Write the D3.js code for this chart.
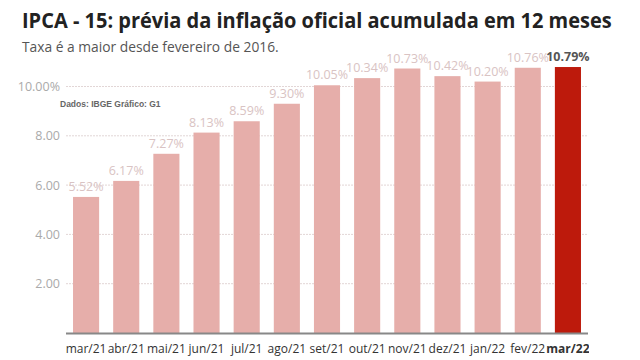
<!DOCTYPE html>
<html><head><meta charset="utf-8">
<script src="https://cdn.jsdelivr.net/npm/d3@7"></script>
<style>body{margin:0;background:#fff}svg{display:block}</style>
</head><body>
<svg id="c" width="640" height="360"></svg>
<script>
const categories = ["mar/21","abr/21","mai/21","jun/21","jul/21","ago/21","set/21","out/21","nov/21","dez/21","jan/22","fev/22","mar/22"];
const values = [5.52,6.17,7.27,8.13,8.59,9.30,10.05,10.34,10.73,10.42,10.20,10.76,10.79];
const yTicks = [2,4,6,8,10];
const yTickLabels = ["2.00","4.00","6.00","8.00","10.00%"];

const svg = d3.select("#c");
const m = {l:66, r:588, t:0, b:333};
const x = d3.scaleBand().domain(categories).range([m.l, m.r]).paddingInner(0.35).paddingOuter(0.175);
const y = d3.scaleLinear().domain([0,10]).range([m.b, 86.5]);

const title = svg.append("text").attr("x",0).attr("y",0).attr("font-family","Open Sans, sans-serif")
  .attr("font-weight","bold").attr("font-size",22).attr("fill","#222")
  .text("IPCA - 15: prévia da inflação oficial acumulada em 12 meses");
const tw = title.node().getComputedTextLength();
title.attr("transform",`translate(22,28) scale(${590/tw},1)`);

svg.append("text").attr("x",22).attr("y",52).attr("font-family","Open Sans, sans-serif")
  .attr("font-size",13.8).attr("fill","#555").text("Taxa é a maior desde fevereiro de 2016.");

// grid
const g = svg.append("g");
g.selectAll("line.grid").data(yTicks).join("line").attr("class","grid")
  .attr("x1",m.l).attr("x2",m.r).attr("y1",d=>y(d)).attr("y2",d=>y(d))
  .attr("stroke","#e2d6d6").attr("stroke-dasharray","2,1").attr("stroke-width",1);
g.selectAll("text.yt").data(yTicks).join("text").attr("class","yt")
  .attr("x",60).attr("y",d=>y(d)+4.5).attr("text-anchor","end")
  .attr("font-family","Open Sans, sans-serif").attr("font-size",12.5).attr("fill","#aaa")
  .text((d,i)=>yTickLabels[i]);

svg.append("text").attr("x",60).attr("y",107).attr("font-family","Liberation Sans, Arial, sans-serif")
  .attr("font-weight","bold").attr("font-size",8.5).attr("fill","#666").text("Dados: IBGE Gráfico: G1");

const last = categories.length-1;
svg.selectAll("rect.bar").data(values).join("rect").attr("class","bar")
  .attr("x",(d,i)=>x(categories[i])).attr("width",x.bandwidth())
  .attr("y",d=>y(d)).attr("height",d=>m.b-y(d))
  .attr("fill",(d,i)=>i===last?"#bd1a0c":"#e6aeaa");

svg.selectAll("text.val").data(values).join("text").attr("class","val")
  .attr("x",(d,i)=>x(categories[i])+x.bandwidth()/2).attr("y",d=>y(d)-6)
  .attr("text-anchor","middle").attr("font-family","Open Sans, sans-serif")
  .attr("font-size",12.5).attr("font-weight",(d,i)=>i===last?"bold":"normal")
  .attr("fill",(d,i)=>i===last?"#555":"#d9c3c3")
  .text(d=>d.toFixed(2)+"%");

// x axis
svg.append("line").attr("x1",m.l).attr("x2",m.r).attr("y1",m.b+0.5).attr("y2",m.b+0.5)
  .attr("stroke","#888").attr("stroke-width",2);

svg.append("clipPath").attr("id","clip").append("rect").attr("x",0).attr("y",0).attr("width",589).attr("height",360);
svg.append("g").attr("clip-path","url(#clip)").selectAll("text.xl").data(categories).join("text").attr("class","xl")
  .attr("x",d=>x(d)+x.bandwidth()/2).attr("y",353).attr("text-anchor","middle")
  .attr("font-family","Open Sans, sans-serif").attr("font-size",12)
  .attr("font-weight",(d,i)=>i===last?"bold":"normal").attr("fill","#333")
  .text(d=>d);
</script>
</body></html>
